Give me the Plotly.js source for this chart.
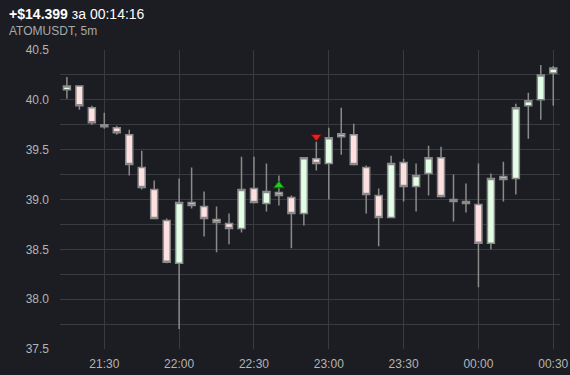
<!DOCTYPE html>
<html>
<head>
<meta charset="utf-8">
<script src="https://cdn.plot.ly/plotly-3.0.1.min.js"></script>
<style>
html,body{margin:0;padding:0;background:#1c1d22;}
#chart{width:570px;height:375px;}
</style>
</head>
<body>
<div id="chart"></div>
<script>
const times = [
 '2024-01-01 21:15','2024-01-01 21:20','2024-01-01 21:25','2024-01-01 21:30','2024-01-01 21:35',
 '2024-01-01 21:40','2024-01-01 21:45','2024-01-01 21:50','2024-01-01 21:55','2024-01-01 22:00',
 '2024-01-01 22:05','2024-01-01 22:10','2024-01-01 22:15','2024-01-01 22:20','2024-01-01 22:25',
 '2024-01-01 22:30','2024-01-01 22:35','2024-01-01 22:40','2024-01-01 22:45','2024-01-01 22:50',
 '2024-01-01 22:55','2024-01-01 23:00','2024-01-01 23:05','2024-01-01 23:10','2024-01-01 23:15',
 '2024-01-01 23:20','2024-01-01 23:25','2024-01-01 23:30','2024-01-01 23:35','2024-01-01 23:40',
 '2024-01-01 23:45','2024-01-01 23:50','2024-01-01 23:55','2024-01-02 00:00','2024-01-02 00:05',
 '2024-01-02 00:10','2024-01-02 00:15','2024-01-02 00:20','2024-01-02 00:25','2024-01-02 00:30'
];
const opens  = [40.10,40.14,39.92,39.75,39.72,39.65,39.32,39.10,38.79,38.36,
                38.97,38.93,38.80,38.76,38.71,39.11,38.96,39.07,39.02,38.86,
                39.41,39.36,39.63,39.65,39.32,39.04,38.82,39.37,39.13,39.26,
                39.42,39.00,38.98,38.95,38.56,39.23,39.21,39.94,40.00,40.27];
const highs  = [40.23,40.14,39.94,39.87,39.74,39.70,39.49,39.19,38.81,39.21,
                39.32,39.08,38.93,38.86,39.43,39.43,39.36,39.24,39.04,39.42,
                39.58,39.72,39.92,39.76,39.34,39.11,39.44,39.41,39.36,39.54,
                39.53,39.25,39.16,39.36,39.26,39.38,39.96,40.07,40.35,40.34];
const lows   = [40.01,39.90,39.75,39.71,39.65,39.24,39.10,38.81,38.36,37.70,
                38.91,38.63,38.47,38.55,38.67,38.96,38.88,38.94,38.51,38.74,
                39.29,39.00,39.45,39.34,38.86,38.53,38.82,38.98,38.88,39.04,
                39.02,38.78,38.87,38.12,38.50,38.98,39.05,39.61,39.80,39.94];
const closes = [40.14,39.94,39.77,39.73,39.67,39.35,39.12,38.81,38.37,38.97,
                38.94,38.81,38.77,38.71,39.10,38.97,39.08,39.04,38.86,39.42,
                39.36,39.62,39.66,39.35,39.05,38.82,39.36,39.13,39.24,39.42,
                39.03,38.98,38.96,38.56,39.21,39.20,39.92,39.99,40.25,40.32];
const buyX = ['2024-01-01 22:40'];
const buyY = [39.14];
const sellX = ['2024-01-01 22:55'];
const sellY = [39.63];
const titleText = '<b>+$14.399</b> за 00:14:16';
const subtitleText = 'ATOMUSDT, 5m';

const grey = '#8a8a8a';
const data = [
  {
    type: 'candlestick',
    x: times, open: opens, high: highs, low: lows, close: closes,
    increasing: {fillcolor: '#e2ffe6', line: {color: grey, width: 1.5}},
    decreasing: {fillcolor: '#ffe0e0', line: {color: grey, width: 1.5}},
    whiskerwidth: 0,
    showlegend: false,
    hoverinfo: 'skip'
  },
  {
    type: 'scatter', mode: 'markers', x: buyX, y: buyY,
    marker: {symbol: 'triangle-up', size: 9, color: '#1fcc1f', line: {color: '#0b6e0b', width: 1}},
    showlegend: false, hoverinfo: 'skip'
  },
  {
    type: 'scatter', mode: 'markers', x: sellX, y: sellY,
    marker: {symbol: 'triangle-down', size: 9, color: '#e52222', line: {color: '#7a0a0a', width: 1}},
    showlegend: false, hoverinfo: 'skip'
  }
];

const gridc = '#3a3b40';
const layout = {
  width: 570, height: 375,
  paper_bgcolor: '#1c1d22', plot_bgcolor: '#1c1d22',
  margin: {l: 60, r: 10, t: 50, b: 25.5},
  font: {family: 'Liberation Sans, Arial, sans-serif', size: 12, color: '#b4b4b4'},
  boxgap: 0.2, boxgroupgap: 0.3,
  title: {
    text: titleText, xref: 'container', yref: 'container', x: 0.016, xanchor: 'left',
    y: 0.962, yanchor: 'middle',
    font: {family: 'Liberation Sans, Arial, sans-serif', size: 14, color: '#ffffff'}
  },
  annotations: [{
    text: subtitleText, xref: 'paper', yref: 'paper',
    x: -0.106, xanchor: 'left', y: 1.063, yanchor: 'middle', showarrow: false,
    font: {family: 'Liberation Sans, Arial, sans-serif', size: 12, color: '#a8a8a8'}
  }],
  xaxis: {
    type: 'date',
    range: ['2024-01-01 21:12:14', '2024-01-02 00:32:42'],
    rangeslider: {visible: false},
    tickformat: '%H:%M', dtick: 1800000, tick0: '2024-01-01 21:30',
    showgrid: true, gridcolor: gridc, gridwidth: 1,
    zeroline: false, showline: false, ticks: '', ticklen: 0,
    ticklabelstandoff: 6,
    tickfont: {size: 12, color: '#b4b4b4'}
  },
  yaxis: {
    range: [37.5, 40.5], dtick: 0.5, tick0: 37.5, tickformat: '.1f',
    showgrid: true, gridcolor: gridc, gridwidth: 1,
    minor: {dtick: 0.25, showgrid: true, gridcolor: gridc, gridwidth: 1, ticks: ''},
    zeroline: false, showline: false, ticks: '', ticklen: 0,
    ticklabelstandoff: 10,
    tickfont: {size: 12, color: '#b4b4b4'}
  }
};

Plotly.newPlot('chart', data, layout, {displayModeBar: false, staticPlot: true});
</script>
</body>
</html>
